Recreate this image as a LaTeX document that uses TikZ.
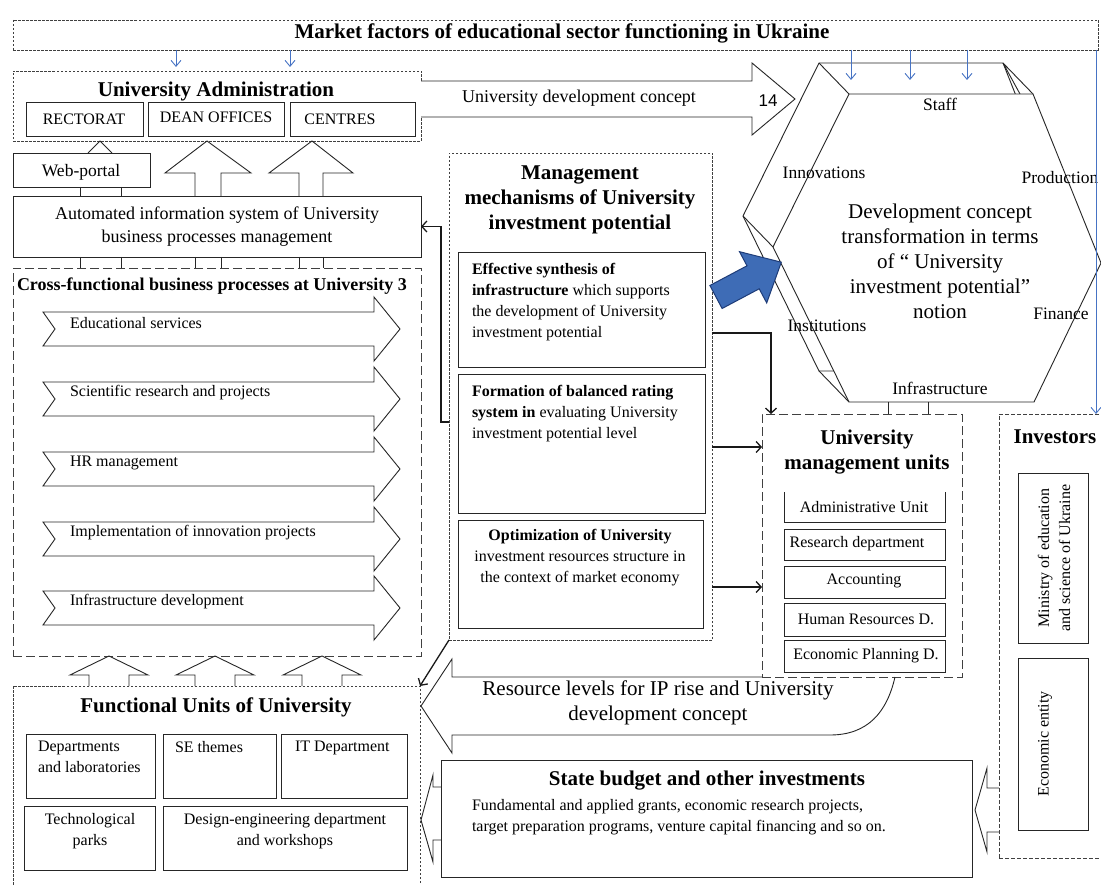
\documentclass[tikz,border=0pt]{standalone}
\usepackage{fontspec}
\setmainfont{Liberation Serif}
\newfontfamily\arialf{Liberation Sans}
\usetikzlibrary{arrows.meta,fit}
\definecolor{mblue}{RGB}{70,115,196}
\definecolor{dblue}{RGB}{30,60,120}
\definecolor{fblue}{RGB}{62,108,182}
\newcommand\ftitle{\fontsize{21}{25}\selectfont\bfseries}
\newcommand\fsub{\fontsize{18}{23}\selectfont\bfseries}
\newcommand\fbody{\fontsize{16}{21}\selectfont}
\newcommand\fmid{\fontsize{18}{23}\selectfont}
\newcommand\fhexs{\fontsize{17.5}{21}\selectfont}
\newcommand\fbig{\fontsize{21}{25}\selectfont}
\tikzset{
 bx/.style={draw=black!85, line width=0.9pt, fill=white, inner sep=0pt, outer sep=0pt},
 dotbx/.style={draw=black!75, line width=0.8pt, dash pattern=on 2.5pt off 1.5pt, inner sep=0pt, outer sep=0pt},
 dashbx/.style={draw=black!75, line width=0.9pt, dash pattern=on 9pt off 4pt, inner sep=0pt, outer sep=0pt},
 blk/.style={draw=black!85, line width=0.9pt, line join=miter},
 conn/.style={draw=black!90, line width=1.3pt, -{Straight Barb[length=5pt,width=11pt]}},
 bluearr/.style={draw=mblue, line width=0.9pt, -{Straight Barb[length=6pt,width=10pt]}},
 txt/.style={inner sep=0pt, outer sep=0pt},
}
\begin{document}
\begin{tikzpicture}[x=1pt,y=-1pt]
\useasboundingbox (0,0) rectangle (1101,885);
\fill[white] (0,0) rectangle (1101,885);

% ---------- Market factors ----------
\node[dotbx, fit={(13,20)(1098,50)}] (market) {};
\node[txt, font=\ftitle] (marketT) at (562,33) {Market factors of educational sector functioning in Ukraine};

% ---------- University Administration ----------
\node[dotbx, fit={(13,71)(421,141)}] (admin) {};
\node[txt, font=\ftitle] (adminT) at (216,91) {University Administration};
\node[bx, fit={(26,102)(143,136)}] (rect) {};
\node[txt, font=\fbody] (rectT) at (84,119) {RECTORAT};
\node[bx, fit={(148,102)(284,136)}] (dean) {};
\node[txt, font=\fbody] (deanT) at (216,117) {DEAN OFFICES};
\node[bx, fit={(290,102)(415,136)}] (centres) {};
\node[txt, font=\fbody] (centresT) at (340,119) {CENTRES};

% ---------- Web portal and AIS ----------
\node[bx, fit={(13,153)(150,187)}] (web) {};
\node[txt, font=\fontsize{17.5}{21}\selectfont] (webT) at (81,172) {Web-portal};
\draw[blk] (88,0 |- web.north) -- (100,0 |- admin.south) -- (112,0 |- web.north);
\node[bx, fit={(13,196)(421,257)}] (ais) {};
\node[txt, font=\fmid, align=center] (aisT) at (217,227) {Automated information system of University\\business processes management};
\foreach \x in {80,121} \draw[blk] (\x,0 |- web.south) -- (\x,0 |- ais.north);
% up block arrows AIS -> admin
\draw[blk] (195,0 |- ais.north) -- (195,173) -- (165,173) -- (207,0 |- admin.south) -- (251,173) -- (221,173) -- (221,0 |- ais.north);
\draw[blk] (299,0 |- ais.north) -- (299,173) -- (269,173) -- (312,0 |- admin.south) -- (353,173) -- (323,173) -- (323,0 |- ais.north);

% ---------- Cross-functional ----------
\node[dashbx, fit={(13,268)(421,656)}] (cross) {};
\node[txt, font=\fsub, anchor=west] (crossT) at (17,286) {Cross-functional business processes at University 3};
\foreach \x in {80,121,195,221,299,323} \draw[blk] (\x,0 |- ais.south) -- (\x,0 |- cross.north);
\foreach \cy/\t/\n in {329/Educational services/p1, 399/Scientific research and projects/p2, 469/HR management/p3, 539/Implementation of innovation projects/p4, 608/Infrastructure development/p5}{
  \draw[blk, fill=white] (43,\cy-17) -- (374,\cy-17) -- (374,\cy-32) -- (400,\cy) -- (374,\cy+32) -- (374,\cy+17) -- (43,\cy+17) -- (55,\cy) -- cycle;
  \node[txt, font=\fbody, anchor=west] (\n) at (70,\cy-6) {\t};
}

% ---------- Functional units ----------
\node[dotbx, fit={(13,686)(420,892)}] (func) {};
\foreach \x in {109,215,322} \draw[blk] (\x-20,0 |- func.north) -- (\x-20,675) -- (\x-39,675) -- (\x,0 |- cross.south) -- (\x+39,675) -- (\x+20,675) -- (\x+20,0 |- func.north);
\node[txt, font=\ftitle] (funcT) at (216,707) {Functional Units of University};
\node[bx, fit={(26,734)(155,798)}] (dep) {};
\node[txt, font=\fbody, align=left, anchor=north west] (depT) at (38,741) {Departments\\and laboratories};
\node[bx, fit={(163,734)(276,798)}] (se) {};
\node[txt, font=\fbody, anchor=north west] (seT) at (175,741) {SE themes};
\node[bx, fit={(281,734)(407,798)}] (itd) {};
\node[txt, font=\fbody, anchor=north west] (itT) at (295,741) {IT Department};
\node[bx, fit={(24,806)(155,870)}] (tech) {};
\node[txt, font=\fbody, align=center, anchor=north] (techT) at (90,813) {Technological\\parks};
\node[bx, fit={(163,806)(407,870)}] (design) {};
\node[txt, font=\fbody, align=center, anchor=north] (designT) at (285,813) {Design-engineering department\\and workshops};

% ---------- University development concept arrow ----------
\draw[blk, fill=white] (421,81) -- (752,81) -- (752,63) -- (795,99) -- (752,135) -- (752,117) -- (421,117);
\node[txt, font=\fmid] (udcT) at (579,98) {University development concept};

% ---------- Hexagon ----------
\coordinate (hbTL) at (819,63); \coordinate (hbTR) at (1003,63); \coordinate (hbR) at (1070,232);
\coordinate (hbBR) at (1004,371); \coordinate (hbBL) at (819,371); \coordinate (hbL) at (743,216);
\coordinate (hfTL) at (849,94); \coordinate (hfTR) at (1033,94); \coordinate (hfR) at (1101,263);
\coordinate (hfBR) at (1034,402); \coordinate (hfBL) at (849,402); \coordinate (hfL) at (773,247);
\draw[blk, fill=white] (hbTL) -- (hbTR) -- (hbR) -- (hbBR) -- (hbBL) -- (hbL) -- cycle;
\draw[blk] (hbTL) -- (hfTL) (hbTR) -- (hfTR) (hbL) -- (hfL) (hbBL) -- (hfBL) (hbTR) -- (1020,94);
\draw[blk, fill=white] (hfTL) -- (hfTR) -- (hfR) -- (hfBR) -- (hfBL) -- (hfL) -- cycle;
\node[txt, font=\arialf\fontsize{17}{20}\selectfont] (n14) at (768,101) {14};
\node[txt, font=\fhexs] (staffT) at (940,104) {Staff};
\node[txt, font=\fhexs] (innT) at (824,173) {Innovations};
\node[txt, font=\fhexs] (prodT) at (1060,178) {Production};
\node[txt, font=\fbig, align=center] (hexT) at (940,261) {Development concept\\transformation in terms\\of \textquotedblleft\ University\\investment potential\textquotedblright\\notion};
\node[txt, font=\fhexs] (instT) at (827,326) {Institutions};
\node[txt, font=\fhexs] (finT) at (1061,314) {Finance};
\node[txt, font=\fhexs] (infT) at (940,388) {Infrastructure};
\coordinate (hexArr) at (0,80);
\foreach \x in {851,910,967} \draw[bluearr] (\x,0 |- market.south) -- (\x,0 |- hexArr);

% ---------- Management mechanisms ----------
\node[dotbx, fit={(449,153)(712,640)}] (mech) {};
\node[txt, font=\ftitle, align=center] (mechT) at (580,200) {Management\\mechanisms of University\\investment potential};
\node[bx, fit={(458,252)(705,367)}] (m1) {};
\node[txt, font=\fbody, align=left, anchor=north west] (m1T) at (472,263) {\textbf{Effective synthesis of}\\\textbf{infrastructure} which supports\\the development of University\\investment potential};
\node[bx, fit={(458,374)(705,513)}] (m2) {};
\node[txt, font=\fbody, align=left, anchor=north west] (m2T) at (472,385) {\textbf{Formation of balanced rating}\\\textbf{system in} evaluating University\\investment potential level};
\node[bx, fit={(458,520)(703,628)}] (m3) {};
\node[txt, font=\fbody, align=center, anchor=north] (m3T) at (580,529) {\textbf{Optimization of University}\\investment resources structure in\\the context of market economy};

% blue block arrow
\draw[draw=dblue, fill=fblue, line width=1pt, line join=miter] (722.1,308.5) -- (759.2,288.8) -- (766.7,302.9) -- (781.3,262.2) -- (739.5,251.7) -- (747.0,265.8) -- (709.9,285.5) -- cycle;

% ---------- University management units ----------
\node[dashbx, fit={(762,414)(962,677)}] (um) {};
\node[txt, font=\ftitle, align=center] (umT) at (867,452) {University\\management units};
\node[inner sep=0pt, outer sep=0pt, fit={(784,492)(945,522)}] (u1) {};
\draw[draw=black!85, line width=0.9pt] (u1.north west) -- (u1.south west) -- (u1.south east) -- (u1.north east);
\node[txt, font=\fbody] (u1T) at (864,507) {Administrative Unit};
\node[bx, fit={(784,529)(945,560)}] (u2) {};
\node[txt, font=\fbody] (u2T) at (857,544) {Research department};
\node[bx, fit={(784,566)(945,598)}] (u3) {};
\node[txt, font=\fbody] (u3T) at (864,581) {Accounting};
\node[bx, fit={(784,603)(945,636)}] (u4) {};
\node[txt, font=\fbody] (u4T) at (866,619) {Human Resources D.};
\node[bx, fit={(784,640)(945,672)}] (u5) {};
\node[txt, font=\fbody] (u5T) at (866,656) {Economic Planning D.};
\foreach \x in {888,928} \draw[blk] (\x,0 |- hfBL) -- (\x,0 |- um.north);

% connectors
\draw[conn] (mech.west |- 0,422) -- (441,422) -- (441,0 |- ais.east) -- (ais.east);
\draw[conn] (mech.east |- 0,333) -| (771,0 |- um.north);
\draw[conn] (mech.east |- 0,447) -- (um.west |- 0,447);
\draw[conn] (mech.east |- 0,587) -- (um.west |- 0,587);
\draw[conn] (mech.south west) -- (func.north east);

% ---------- Resource levels arrow ----------
\draw[blk] (um.south west) -- (452,677) -- (452,659) -- (421,706) -- (452,753) -- (452,735) -- (830,735) .. controls (868,735) and (887,712) .. (895,0 |- um.south);
\node[txt, font=\fbig, align=center] (resT) at (658,703) {Resource levels for IP rise and University\\development concept};

% ---------- Investors ----------
\node[dotbx, dash pattern=on 4pt off 2pt, fit={(999,414)(1106,858)}] (inv) {};
\node[txt, font=\ftitle] (invT) at (1055,437) {Investors};
\node[bx, fit={(1018,473)(1088,643)}] (mins) {};
\node[txt, font=\fbody, align=center, rotate=90] (minsT) at (1054,558) {Ministry of education\\and science of Ukraine};
\node[bx, fit={(1018,658)(1088,830)}] (eco) {};
\node[txt, font=\fbody, rotate=90] (ecoT) at (1045,744) {Economic entity};
\draw[bluearr] (1096,0 |- market.south) -- (1096,0 |- inv.north);

% ---------- State budget ----------
\node[bx, fit={(441,760)(972,877)}] (sb) {};
\node[txt, font=\ftitle] (sbT) at (707,781) {State budget and other investments};
\node[txt, font=\fbody, align=left, anchor=north west] (sbB) at (472,799) {Fundamental and applied grants, economic research projects,\\target preparation programs, venture capital financing and so on.};
\draw[blk] (inv.west |- 0,788) -- (987,788) -- (987,768) -- (975,810) -- (987,852) -- (987,832) -- (inv.west |- 0,832);
\draw[blk] (sb.west |- 0,787) -- (433,787) -- (433,775) -- (421,820) -- (433,862) -- (433,840) -- (sb.west |- 0,840);

% blue arrows to administration
\foreach \x in {176,290} \draw[bluearr, shorten >=4pt] (\x,0 |- market.south) -- (\x,0 |- admin.north);
\end{tikzpicture}
\end{document}
